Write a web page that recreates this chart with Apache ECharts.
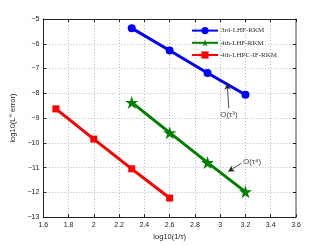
<!DOCTYPE html>
<html><head><meta charset="utf-8">
<script src="https://cdn.jsdelivr.net/npm/echarts@6/dist/echarts.min.js"></script>
<style>html,body{margin:0;padding:0;background:#fff}#c{width:327px;height:246px}</style>
</head><body><div id="c"></div>
<script>
const xTicks = [1.6, 1.8, 2, 2.2, 2.4, 2.6, 2.8, 3, 3.2, 3.4, 3.6];
const yTicks = [-13, -12, -11, -10, -9, -8, -7, -6, -5];
const seriesNames = ['3rd-LHF-RKM', '4th-LHF-RKM', '4th-LHPC-IF-RKM'];
const xBlue = [2.3, 2.6, 2.9, 3.2];
const yBlue = [-5.37, -6.27, -7.18, -8.06];
const xGreen = [2.3, 2.6, 2.9, 3.2];
const yGreen = [-8.37, -9.59, -10.8, -11.98];
const xRed = [1.7, 2.0, 2.3, 2.6];
const yRed = [-8.63, -9.85, -11.05, -12.23];
const ann3 = {text: 'O(τ³)', at: [3.0, -8.88], from: [3.068, -8.6], to: [3.056, -7.61]};
const ann4 = {text: 'O(τ⁴)', at: [3.18, -10.78], from: [3.169, -10.82], to: [3.064, -11.16]};

const star = 'path://M0 -100 L22.3 -30.7 L95.1 -30.9 L36.1 11.7 L58.8 80.9 L0 38 L-58.8 80.9 L-36.1 11.7 L-95.1 -30.9 L-22.3 -30.7 Z';
const zip = (a, b) => a.map((v, i) => [v, b[i]]);
const fmtMinus = v => String(v).replace('-', '\u2212');
const tickFont = {fontFamily: 'Liberation Sans', fontSize: 7, color: '#222'};
const annFont = {fontFamily: 'Liberation Sans', fontSize: 8, color: '#111', textBorderWidth: 0, textShadowBlur: 0};
const axBase = {
  type: 'value', min: xTicks[0], max: xTicks[xTicks.length - 1], interval: 0.2,
  axisLine: {show: true, onZero: false, lineStyle: {color: '#222', width: 1}},
  axisTick: {show: true, inside: true, length: 3, lineStyle: {color: '#222'}},
};
const chart = echarts.init(document.getElementById('c'));
chart.setOption({
  animation: false,
  grid: {left: 42, right: 31, top: 19, bottom: 28},
  legend: {
    left: 186, top: 22, orient: 'vertical', itemGap: 5, itemWidth: 26, itemHeight: 9,
    textStyle: {fontFamily: 'Liberation Serif', fontSize: 7, color: '#333', padding: [0, 0, 0, -2]},
    data: seriesNames
  },
  xAxis: [
    Object.assign({}, axBase, {
      position: 'bottom',
      name: 'log10(1/τ)', nameLocation: 'middle', nameGap: 12,
      nameTextStyle: {fontFamily: 'Liberation Sans', fontSize: 7.5, color: '#222'},
      axisLabel: Object.assign({margin: 4, formatter: v => fmtMinus(Math.round(v * 10) / 10)}, tickFont),
      splitLine: {show: true, lineStyle: {color: '#bbb', type: [1, 2], width: 1}}
    }),
    Object.assign({}, axBase, {position: 'top', axisLabel: {show: false}, splitLine: {show: false}})
  ],
  yAxis: [
    Object.assign({}, axBase, {
      min: yTicks[0], max: yTicks[yTicks.length - 1], interval: 1, position: 'left',
      name: '{a|log10(L}{s|∞}{a| error)}', nameLocation: 'middle', nameGap: 17,
      nameTextStyle: {rich: {a: {fontFamily: 'Liberation Sans', fontSize: 7.5, color: '#222'},
                             s: {fontFamily: 'Liberation Sans', fontSize: 5, color: '#222', verticalAlign: 'top', padding: [0, 0, 4, 0]}}},
      axisLabel: Object.assign({margin: 4, formatter: v => fmtMinus(v)}, tickFont),
      splitLine: {show: true, lineStyle: {color: '#bbb', type: [1, 2], width: 1}}
    }),
    Object.assign({}, axBase, {
      min: yTicks[0], max: yTicks[yTicks.length - 1], interval: 1, position: 'right',
      axisLine: {show: true, onZero: false, lineStyle: {color: '#888', width: 1.5}},
      axisLabel: {show: false}, splitLine: {show: false}
    })
  ],
  series: [
    {name: seriesNames[0], type: 'line', data: zip(xBlue, yBlue), color: '#0000ff',
     lineStyle: {width: 3}, symbol: 'circle', symbolSize: 8, z: 3},
    {name: seriesNames[1], type: 'line', data: zip(xGreen, yGreen), color: '#008000',
     lineStyle: {width: 3}, symbol: star, symbolSize: 13, z: 3},
    {name: seriesNames[2], type: 'line', data: zip(xRed, yRed), color: '#ff0000',
     lineStyle: {width: 3}, symbol: 'rect', symbolSize: 7, z: 3,
     markLine: {
       silent: true, symbol: ['none', 'arrow'], symbolSize: [5, 6],
       lineStyle: {color: '#222', width: 0.8, type: 'solid'}, label: {show: false},
       data: [[{coord: ann3.from}, {coord: ann3.to}], [{coord: ann4.from}, {coord: ann4.to}]]
     }},
    {type: 'scatter', symbolSize: 0, silent: true, color: '#111',
     data: [
       {value: ann3.at, label: Object.assign({show: true, position: 'right', distance: 0, formatter: ann3.text}, annFont)},
       {value: ann4.at, label: Object.assign({show: true, position: 'right', distance: 0, formatter: ann4.text}, annFont)}
     ]}
  ]
});
</script></body></html>
